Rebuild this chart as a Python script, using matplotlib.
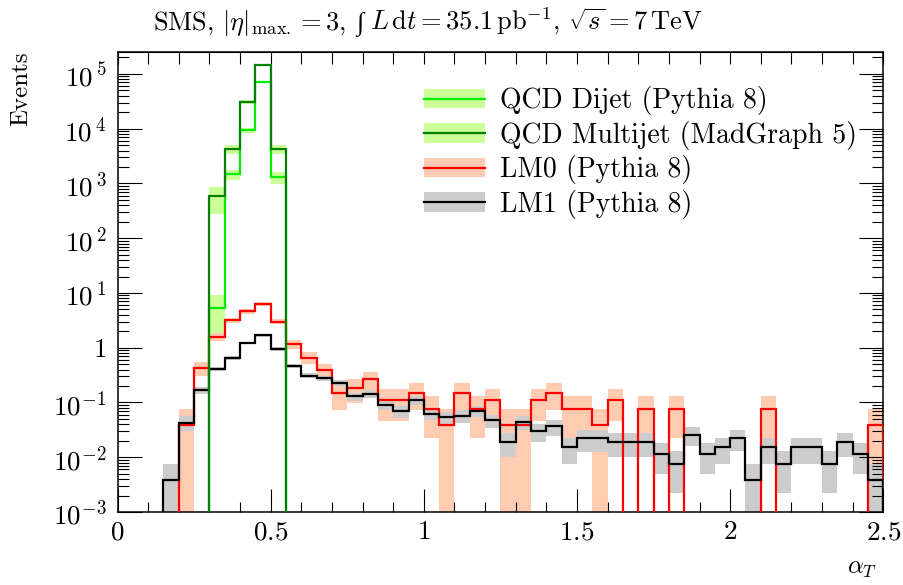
import numpy as np
import matplotlib
matplotlib.use("Agg")
import matplotlib.pyplot as plt
from matplotlib.patches import Patch
from matplotlib.lines import Line2D
from matplotlib.ticker import MultipleLocator, LogLocator, FuncFormatter, NullFormatter

plt.rcParams["font.family"] = ["cmr10", "DejaVu Serif"]
plt.rcParams["mathtext.fontset"] = "cm"
plt.rcParams["axes.unicode_minus"] = False
plt.rcParams["axes.formatter.use_mathtext"] = True

# 50 bins of width 0.05 in alpha_T
edges = np.linspace(0.0, 2.5, 51)

# QCD samples: only bins 0.30 ... 0.55 are filled
qcd_edges = [0.30, 0.35, 0.40, 0.45, 0.50, 0.55]
dijet = [5.4, 1480, 9400, 70000, 1300]
dijet_err = [3.7, 320, 900, 2500, 310]
multijet = [580, 4270, 30500, 146000, 4270]
multijet_err = [300, 800, 2500, 8000, 800]

lm0 = [0, 0, 0, 0, 0.038, 0.43, 1.6, 3.2, 4.6, 6.3,
       3.0, 1.17, 0.66, 0.39, 0.149, 0.184, 0.268, 0.112, 0.112, 0.149,
       0.076, 0.038, 0.149, 0.076, 0.112, 0.038, 0.038, 0.112, 0.149, 0.076,
       0.076, 0.038, 0.112, 0, 0.076, 0, 0.076, 0, 0, 0,
       0, 0, 0.076, 0, 0, 0, 0, 0, 0, 0.038]
lm0_err = [0, 0, 0, 0, 0.038, 0.13, 0.25, 0.35, 0.42, 0.49,
           0.34, 0.21, 0.16, 0.12, 0.076, 0.085, 0.10, 0.066, 0.066, 0.076,
           0.054, 0.038, 0.076, 0.054, 0.066, 0.038, 0.038, 0.066, 0.076, 0.054,
           0.054, 0.038, 0.066, 0, 0.054, 0, 0.054, 0, 0, 0,
           0, 0, 0.054, 0, 0, 0, 0, 0, 0, 0.038]

lm1 = [0, 0, 0, 0.0038, 0.043, 0.166, 0.41, 0.65, 1.22, 1.68,
       0.95, 0.46, 0.31, 0.275, 0.226, 0.129, 0.145, 0.091, 0.069, 0.112,
       0.0625, 0.054, 0.057, 0.071, 0.047, 0.0187, 0.044, 0.0297, 0.0367, 0.0152,
       0.022, 0.022, 0.0187, 0.0187, 0.0187, 0.0115, 0.0076, 0.0259, 0.0115, 0.0152,
       0.0225, 0.0038, 0.0152, 0.0076, 0.0152, 0.0152, 0.0076, 0.0187, 0.0115, 0.0038]
lm1_err = [0, 0, 0, 0.0038, 0.0128, 0.025, 0.039, 0.050, 0.068, 0.080,
           0.060, 0.042, 0.034, 0.032, 0.029, 0.022, 0.023, 0.019, 0.016, 0.021,
           0.015, 0.014, 0.015, 0.016, 0.013, 0.0085, 0.013, 0.0107, 0.012, 0.0076,
           0.0093, 0.0093, 0.0085, 0.0085, 0.0085, 0.0066, 0.0054, 0.010, 0.0066, 0.0076,
           0.0093, 0.0038, 0.0076, 0.0054, 0.0076, 0.0076, 0.0054, 0.0085, 0.0066, 0.0038]

green_band = "#ccff99"
pink_band = "#ffccb2"
gray_band = "#cccccc"
c_dijet = "#00ee00"
c_multi = "#008000"
c_lm0 = "#ff0000"
c_lm1 = "#000000"

TINY = 1e-9


def band(ax, e, v, err, color):
    e = np.asarray(e)
    v = np.asarray(v, dtype=float)
    err = np.asarray(err, dtype=float)
    lo = np.maximum(v - err, TINY)
    hi = v + err
    m = v > 0
    ax.bar(e[:-1][m], (hi - lo)[m], bottom=lo[m], width=np.diff(e)[m],
           align="edge", color=color, linewidth=0, zorder=1)


def hist(ax, e, v, color, lw=1.6, z=3):
    v = np.asarray(v, dtype=float)
    ax.stairs(np.where(v > 0, v, TINY), e, baseline=TINY, color=color,
              linewidth=lw, zorder=z)


fig = plt.figure(figsize=(9.04, 5.85), dpi=100)
ax = fig.add_axes([0.130, 0.1248, 0.8471, 0.7868])
ax.set_yscale("log")

band(ax, qcd_edges, dijet, dijet_err, green_band)
band(ax, qcd_edges, multijet, multijet_err, green_band)
band(ax, edges, lm0, lm0_err, pink_band)
band(ax, edges, lm1, lm1_err, gray_band)

hist(ax, edges, lm0, c_lm0)
hist(ax, edges, lm1, c_lm1, z=4)
hist(ax, qcd_edges, dijet, c_dijet, z=5)
hist(ax, qcd_edges, multijet, c_multi, z=6)

ax.set_xlim(0, 2.5)
ax.set_ylim(1e-3, 2.55e5)

fs = 18        # axis labels
fs_title = 19
fs_tick = 19.5
fs_leg = 20

ax.xaxis.set_major_locator(MultipleLocator(0.5))
ax.xaxis.set_minor_locator(MultipleLocator(0.1))
ax.xaxis.set_major_formatter(FuncFormatter(lambda v, _: f"${v:g}$"))
ax.tick_params(axis="x", which="both", direction="in", top=False, bottom=True,
               width=0.8, labelsize=fs_tick, pad=6)
ax.tick_params(axis="x", which="major", length=16.5)
ax.tick_params(axis="x", which="minor", length=7.2)

top = ax.secondary_xaxis("top")
top.set_xticks(np.linspace(0, 2.5, 26))
top.tick_params(direction="in", length=8.6, width=0.8, labeltop=False)
top.xaxis.set_major_formatter(NullFormatter())


def yfmt(v, _):
    e = int(round(np.log10(v)))
    if e == 0:
        return "$1$"
    if e > 0:
        return f"$10^{{\\,{e}}}$"
    return f"$10^{{{e}}}$"


ax.yaxis.set_major_locator(LogLocator(base=10, numticks=20))
ax.yaxis.set_minor_locator(LogLocator(base=10, subs=np.arange(2, 10), numticks=20))
ax.yaxis.set_major_formatter(FuncFormatter(yfmt))
ax.yaxis.set_minor_formatter(NullFormatter())
ax.tick_params(axis="y", which="both", direction="in", left=True, right=True,
               width=0.8, labelsize=fs_tick, pad=8)
ax.tick_params(axis="y", which="major", length=17.3)
ax.tick_params(axis="y", which="minor", length=7.9)

for s in ax.spines.values():
    s.set_linewidth(1.1)

ax.set_ylabel("Events", loc="top", fontsize=fs)
ax.yaxis.set_label_coords(-0.1117, 1.0)
ax.set_xlabel(r"$\alpha_T$", loc="right", fontsize=fs)
ax.xaxis.set_label_coords(0.992, -0.10)

# title in three pieces so the integral sign stays text-sized
rend = fig.canvas.get_renderer()
y_base = 1 - 30 / 585
t1 = fig.text(153 / 904, y_base, r"SMS, $|\eta|_{\mathrm{max.}} = 3$,",
              fontsize=fs_title, ha="left", va="baseline")
x = t1.get_window_extent(rend).x1 + 10
t2 = fig.text(x / 904, y_base, "\u222b", family=["Liberation Serif", "DejaVu Serif"],
              fontsize=fs_title, ha="left", va="baseline")
x = t2.get_window_extent(rend).x1 + 7
fig.text(x / 904, y_base,
         r"$L\,\mathrm{d}t = 35.1\,\mathrm{pb}^{-1}$, $\sqrt{s} = 7\,\mathrm{TeV}$",
         fontsize=fs_title, ha="left", va="baseline")

handles = [
    (Patch(color=green_band, linewidth=0), Line2D([], [], color=c_dijet, lw=1.6)),
    (Patch(color=green_band, linewidth=0), Line2D([], [], color=c_multi, lw=1.6)),
    (Patch(color=pink_band, linewidth=0), Line2D([], [], color=c_lm0, lw=1.6)),
    (Patch(color=gray_band, linewidth=0), Line2D([], [], color=c_lm1, lw=1.6)),
]
labels = ["QCD Dijet (Pythia 8)", "QCD Multijet (MadGraph 5)",
          "LM0 (Pythia 8)", "LM1 (Pythia 8)"]
ax.legend(handles, labels, loc="upper left", bbox_to_anchor=(0.40, 0.925),
          frameon=False, fontsize=fs_leg, handlelength=2.2, handletextpad=0.54,
          labelspacing=0.2, borderpad=0, borderaxespad=0)

fig.savefig("out.png", dpi=100)
